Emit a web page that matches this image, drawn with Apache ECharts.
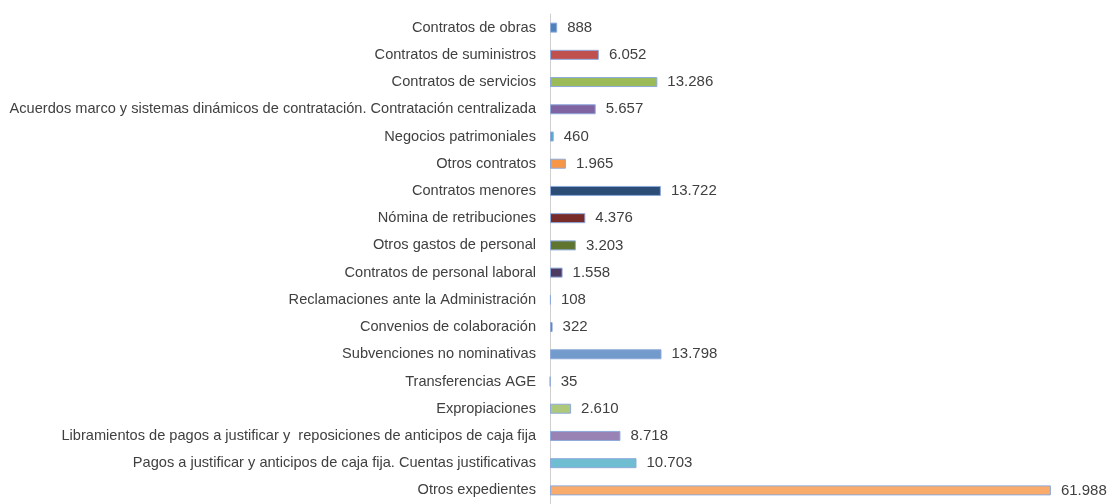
<!DOCTYPE html>
<html>
<head>
<meta charset="utf-8">
<script src="https://cdn.jsdelivr.net/npm/echarts@6/dist/echarts.min.js"></script>
<style>
  html, body { margin: 0; padding: 0; background: #fff; }
  #chart { width: 1109px; height: 504px; }
</style>
</head>
<body>
<div id="chart"></div>
<script>
const categories = [
  "Contratos de obras",
  "Contratos de suministros",
  "Contratos de servicios",
  "Acuerdos marco y sistemas dinámicos de contratación. Contratación centralizada",
  "Negocios patrimoniales",
  "Otros contratos",
  "Contratos menores",
  "Nómina de retribuciones",
  "Otros gastos de personal",
  "Contratos de personal laboral",
  "Reclamaciones ante la Administración",
  "Convenios de colaboración",
  "Subvenciones no nominativas",
  "Transferencias AGE",
  "Expropiaciones",
  "Libramientos de pagos a justificar y  reposiciones de anticipos de caja fija",
  "Pagos a justificar y anticipos de caja fija. Cuentas justificativas",
  "Otros expedientes"
];
const values = [888, 6052, 13286, 5657, 460, 1965, 13722, 4376, 3203, 1558, 108, 322, 13798, 35, 2610, 8718, 10703, 61988];
const barColors = [
  "#4f81bd", "#c0504d", "#9bbb59", "#8064a2", "#4bacc6", "#f79646",
  "#2c4d75", "#772c2a", "#5f7530", "#4d3b62", "#276a7c", "#b65708",
  "#729aca", "#cd7371", "#afc97a", "#9983b5", "#6fbdd1", "#f9ab6b"
];

// 61.988 -> punto como separador de miles
function fmt(v) {
  return String(v).replace(/\B(?=(\d{3})+(?!\d))/g, ".");
}

const chart = echarts.init(document.getElementById("chart"));
chart.setOption({
  animation: false,
  grid: { left: 550, top: 14, width: 549.5, height: 494.5 },
  xAxis: {
    type: "value",
    min: 0,
    max: 68000,
    show: false
  },
  yAxis: {
    type: "category",
    inverse: true,
    data: categories,
    axisLine: { lineStyle: { color: "#cfcfcf", width: 1 } },
    axisTick: { length: 4, lineStyle: { color: "#c4c4c4" } },
    axisLabel: {
      margin: 14,
      color: "#404040",
      fontSize: 14.6,
      fontFamily: "Liberation Sans"
    }
  },
  series: [
    {
      type: "bar",
      barWidth: 10,
      data: values.map((v, i) => ({
        value: v,
        itemStyle: { color: barColors[i] }
      })),
      itemStyle: { borderColor: "#8eaadb", borderWidth: 1 },
      label: {
        show: true,
        position: "right",
        distance: 10,
        color: "#404040",
        fontSize: 15,
        fontFamily: "Liberation Sans",
        formatter: (p) => fmt(p.value)
      }
    }
  ]
});
</script>
</body>
</html>
